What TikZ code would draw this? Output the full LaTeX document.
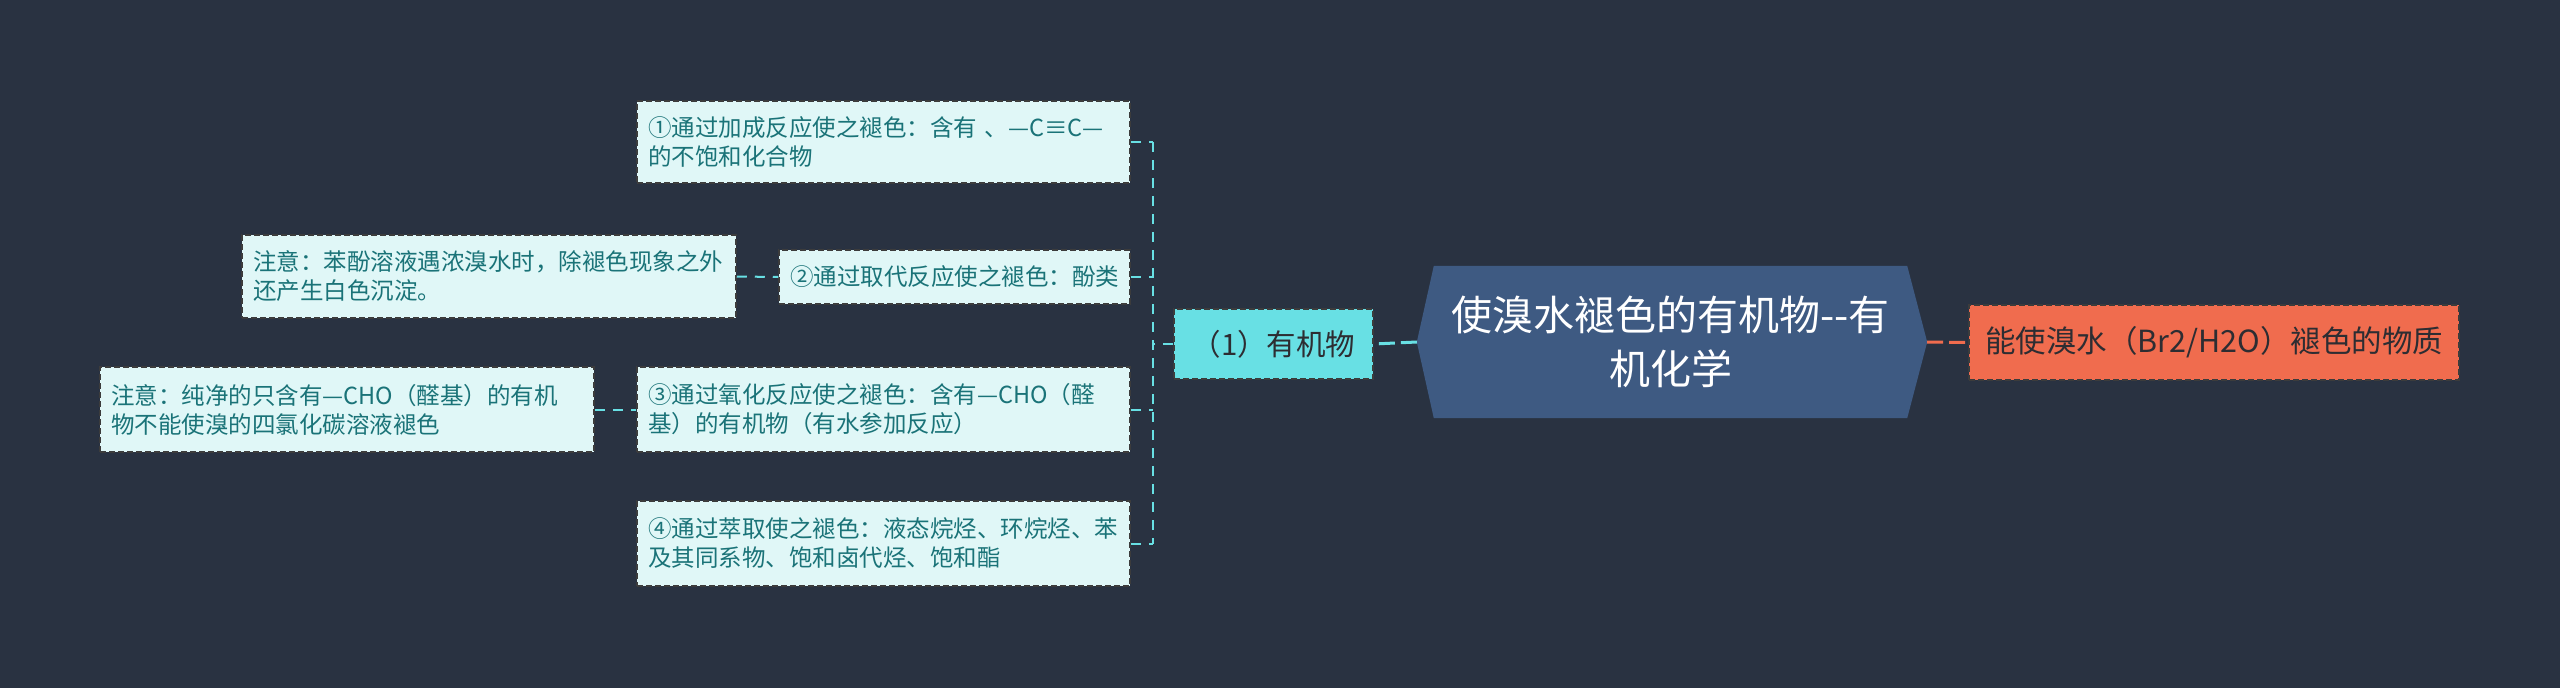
\documentclass[tikz,border=0pt]{standalone}
\usepackage{fontspec}
\setmainfont{Noto Sans CJK SC}
\definecolor{bg}{RGB}{41,50,65}
\definecolor{leaffill}{RGB}{224,247,247}
\definecolor{leaftext}{RGB}{26,115,120}
\definecolor{boxline}{RGB}{60,60,60}
\definecolor{cyanc}{RGB}{104,224,228}
\definecolor{centralfill}{RGB}{62,90,130}
\definecolor{orangec}{RGB}{240,108,78}
\definecolor{darktext}{RGB}{45,45,50}
\tikzset{
  leaf/.style={draw=boxline, line width=1.5pt, dash pattern=on 6pt off 3pt, fill=leaffill, text=leaftext,
    font=\fontsize{23.5}{29}\selectfont, align=left, inner xsep=11pt, inner ysep=0pt, anchor=center},
  lvlone/.style={draw=boxline, line width=1.5pt, dash pattern=on 6pt off 3pt, fill=cyanc, text=darktext,
    font=\fontsize{29.5}{34}\selectfont, align=center, inner sep=0pt, anchor=center},
  rightbox/.style={draw=boxline, line width=1.5pt, dash pattern=on 6pt off 3pt, fill=orangec, text=darktext,
    font=\fontsize{30.5}{34}\selectfont, align=center, inner sep=0pt, anchor=center},
  conn/.style={draw=cyanc, line width=2pt, dash pattern=on 10pt off 8pt},
  mainconn/.style={draw=cyanc, line width=3pt, dash pattern=on 16pt off 6pt},
  orconn/.style={draw=orangec, line width=3pt, dash pattern=on 16pt off 6pt},
}
\begin{document}
\begin{tikzpicture}[x=1pt,y=-1pt]
\fill[bg] (0,0) rectangle (2560,688);
\useasboundingbox (0,0) rectangle (2560,688);

\node[leaf, text width=471pt, minimum height=82pt] (n1) at (883.5,142)
  {①通过加成反应使之褪色：含有 、—C≡C—\\的不饱和化合物};
\node[leaf, text width=329pt, minimum height=54pt] (n2) at (954.5,277)
  {②通过取代反应使之褪色：酚类};
\node[leaf, text width=472pt, minimum height=83pt] (m2) at (489,276.5)
  {注意：苯酚溶液遇浓溴水时，除褪色现象之外\\还产生白色沉淀。};
\node[leaf, text width=471pt, minimum height=85pt] (n3) at (883.5,409.5)
  {③通过氧化反应使之褪色：含有—CHO（醛\\基）的有机物（有水参加反应）};
\node[leaf, text width=472pt, minimum height=85pt] (m3) at (347,409.5)
  {注意：纯净的只含有—CHO（醛基）的有机\\物不能使溴的四氯化碳溶液褪色};
\node[leaf, text width=471pt, minimum height=85pt] (n4) at (883.5,543.5)
  {④通过萃取使之褪色：液态烷烃、环烷烃、苯\\及其同系物、饱和卤代烃、饱和酯};

\node[lvlone, minimum width=199pt, minimum height=70pt] (l1) at (1273.5,344) {（1）有机物};

\node[inner sep=0pt, minimum width=473pt, minimum height=152pt] (c) at (1670.5,342) {};
\fill[centralfill] (c.north west) -- (c.north east) -- ([xshift=20pt]c.east) -- (c.south east)
  -- (c.south west) -- ([xshift=-17pt]c.west) -- cycle;
\node[text=white, align=center, font=\fontsize{41}{54}\selectfont, inner sep=0pt] (ct) at (c.center)
  {使溴水褪色的有机物-{}-有\\机化学};

\node[rightbox, minimum width=490pt, minimum height=75pt] (r) at (2214,342.5)
  {能使溴水（Br2/H2O）褪色的物质};

\coordinate (jx) at (1153,344);
\draw[conn] (n1.east -| jx) -- (n4.east -| jx);
\draw[conn] (n1.east) -- (n1.east -| jx);
\draw[conn] (n2.east) -- (n2.east -| jx);
\draw[conn] (n3.east) -- (n3.east -| jx);
\draw[conn] (n4.east) -- (n4.east -| jx);
\draw[conn] (l1.west) -- (jx);
\draw[conn] (m2.east) -- (n2.west);
\draw[conn] (m3.east) -- (n3.west);
\draw[mainconn] ([xshift=-17pt]c.west) -- (l1.east);
\draw[orconn] ([xshift=20pt]c.east) -- (r.west);
\end{tikzpicture}
\end{document}
